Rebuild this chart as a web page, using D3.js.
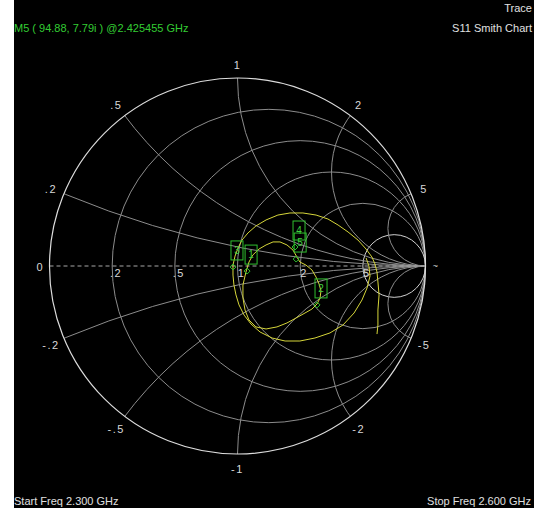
<!DOCTYPE html>
<html>
<head>
<meta charset="utf-8">
<script src="https://cdnjs.cloudflare.com/ajax/libs/d3/7.8.5/d3.min.js"></script>
<style>
body { margin: 0; background: #fff; }
svg { display: block; }
text { font-family: "Liberation Sans", Arial, sans-serif; }
</style>
</head>
<body>
<div id="carta"></div>
<script>
// Circulos de resistencia y arcos de reactancia (normalizados)
var resistencias = [0.2, 0.5, 1, 2, 5];
var etiquetasR = [".2", ".5", "1", "2", "5"];
var reactancias = [0.2, 0.5, 1, 2, 5, -0.2, -0.5, -1, -2, -5];
var etiquetasX = [".2", ".5", "1", "2", "5", "-.2", "-.5", "-1", "-2", "-5"];

// Traza S11 (coeficiente de reflexion, parte real / imaginaria)
var lazoExtRe = [0.742, 0.747, 0.747, 0.753, 0.747, 0.742, 0.731, 0.715, 0.684, 0.641, 0.588, 0.535, 0.481, 0.418, 0.348, 0.279, 0.215, 0.152, 0.098, 0.056, 0.024, 0.003, -0.013, -0.024, -0.024, -0.019, -0.008, 0.008, 0.035, 0.072, 0.120, 0.184, 0.253, 0.332, 0.412, 0.492, 0.561, 0.620, 0.662, 0.689, 0.705, 0.699, 0.684];
var lazoExtIm = [-0.362, -0.314, -0.234, -0.154, -0.085, -0.032, 0.011, 0.048, 0.090, 0.138, 0.181, 0.218, 0.250, 0.271, 0.282, 0.282, 0.271, 0.245, 0.213, 0.176, 0.138, 0.096, 0.053, 0.005, -0.048, -0.101, -0.154, -0.207, -0.261, -0.309, -0.351, -0.383, -0.399, -0.399, -0.383, -0.356, -0.314, -0.250, -0.181, -0.117, -0.053, 0.000, 0.043];
var lazoIntRe = [0.045, 0.061, 0.082, 0.114, 0.152, 0.189, 0.226, 0.263, 0.295, 0.316, 0.332, 0.364, 0.396, 0.418, 0.434, 0.444, 0.439, 0.423, 0.396, 0.359, 0.311, 0.263, 0.210, 0.152, 0.098, 0.061, 0.040, 0.029, 0.029, 0.045];
var lazoIntIm = [-0.032, 0.021, 0.059, 0.090, 0.112, 0.128, 0.128, 0.112, 0.085, 0.048, 0.021, 0.005, -0.021, -0.059, -0.096, -0.133, -0.170, -0.202, -0.229, -0.250, -0.277, -0.303, -0.324, -0.335, -0.324, -0.287, -0.234, -0.170, -0.101, -0.032];

// Marcadores
var marcadores = ["1", "2", "3", "4", "5"];
var marcadorRe = [0.051, 0.423, -0.024, 0.306, 0.312];
var marcadorIm = [-0.027, -0.207, -0.005, 0.101, 0.037];

var svg = d3.select("#carta").append("svg")
	.attr("width", 534)
	.attr("height", 508);

svg.append("rect").attr("x", 14).attr("y", 0).attr("width", 520).attr("height", 508).attr("fill", "#000");

var cx = 237.5, cy = 266, R = 188;
var x = d3.scaleLinear().domain([-1, 1]).range([cx - R, cx + R]);
var y = d3.scaleLinear().domain([-1, 1]).range([cy + R, cy - R]);
var k = x(1) - x(0);

svg.append("clipPath").attr("id", "unidad")
	.append("circle").attr("cx", x(0)).attr("cy", y(0)).attr("r", k);

var g = svg.append("g");

// Circulos de resistencia constante
g.selectAll(".res")
	.data(resistencias)
	.enter().append("circle")
	.attr("class", "res")
	.attr("cx", function(d) { return x(d / (1 + d)); })
	.attr("cy", y(0))
	.attr("r", function(d) { return k / (1 + d); })
	.attr("fill", "none")
	.attr("stroke", function(d) { return d == 5 ? "#d0d0d0" : "#8c8c8c"; })
	.attr("stroke-width", 1);

// Arcos de reactancia constante
g.append("g").attr("clip-path", "url(#unidad)")
	.selectAll("circle")
	.data(reactancias)
	.enter().append("circle")
	.attr("cx", x(1))
	.attr("cy", function(d) { return y(1 / d); })
	.attr("r", function(d) { return k / Math.abs(d); })
	.attr("fill", "none")
	.attr("stroke", "#8c8c8c")
	.attr("stroke-width", 1);

// Eje real punteado
g.append("line")
	.attr("x1", x(-1)).attr("x2", x(1))
	.attr("y1", y(0)).attr("y2", y(0))
	.attr("stroke", "#a8a8a8")
	.attr("stroke-dasharray", "4,3");

// Circulo exterior
g.append("circle")
	.attr("cx", x(0)).attr("cy", y(0)).attr("r", k)
	.attr("fill", "none")
	.attr("stroke", "#dcdcdc")
	.attr("stroke-width", 1.2);

// Etiquetas de resistencia sobre el eje
g.selectAll(".etR")
	.data(resistencias)
	.enter().append("text")
	.attr("class", "etR")
	.attr("x", function(d) { return x((d - 1) / (d + 1)) + 4; })
	.attr("y", y(0) + 11)
	.attr("text-anchor", "middle")
	.attr("fill", "#d8d8d8")
	.attr("font-size", 11)
	.attr("letter-spacing", 1.5)
	.text(function(d, i) { return etiquetasR[i]; });

// Etiquetas de reactancia en el borde
function gamma(xv) {
	var den = 1 + xv * xv;
	return [(xv * xv - 1) / den, 2 * xv / den];
}
g.selectAll(".etX")
	.data(reactancias)
	.enter().append("text")
	.attr("class", "etX")
	.attr("x", function(d) { var p = gamma(d); return x(p[0] * 1.075); })
	.attr("y", function(d) { var p = gamma(d); return y(p[1] * 1.075) + 5; })
	.attr("text-anchor", "middle")
	.attr("fill", "#d8d8d8")
	.attr("font-size", 11)
	.attr("letter-spacing", 1.5)
	.text(function(d, i) { return etiquetasX[i]; });

g.append("text").attr("x", x(-1) - 10).attr("y", y(0) + 5)
	.attr("text-anchor", "middle").attr("fill", "#d8d8d8").attr("font-size", 11).text("0");
g.append("text").attr("x", x(1) + 10).attr("y", y(0) + 3)
	.attr("text-anchor", "middle").attr("fill", "#d8d8d8").attr("font-size", 9).text("~");

// Traza
var linea = d3.line()
	.x(function(d) { return x(d[0]); })
	.y(function(d) { return y(d[1]); });

[[lazoExtRe, lazoExtIm], [lazoIntRe, lazoIntIm]].forEach(function(s) {
	g.append("path")
		.datum(s[0].map(function(v, i) { return [v, s[1][i]]; }))
		.attr("d", linea)
		.attr("fill", "none")
		.attr("stroke", "#d6d63a")
		.attr("stroke-width", 1);
});

// Marcadores
var mk = g.selectAll(".mk")
	.data(marcadores)
	.enter().append("g")
	.attr("class", "mk")
	.attr("transform", function(d, i) { return "translate(" + x(marcadorRe[i]) + "," + y(marcadorIm[i]) + ")"; });

mk.append("path")
	.attr("d", "M0,-3L3,0L0,3L-3,0Z")
	.attr("fill", "none")
	.attr("stroke", "#2fbf2f");
mk.append("rect")
	.attr("x", -2).attr("y", -26)
	.attr("width", 12).attr("height", 19)
	.attr("fill", "none")
	.attr("stroke", "#2fbf2f");
mk.append("text")
	.attr("x", 4).attr("y", -13)
	.attr("text-anchor", "middle")
	.attr("fill", "#3fcf3f")
	.attr("font-size", 10)
	.text(function(d) { return d; });

// Textos
svg.append("text").attr("x", 14).attr("y", 32).attr("fill", "#33cc33").attr("font-size", 11)
	.text("M5 ( 94.88, 7.79i ) @2.425455 GHz");
svg.append("text").attr("x", 532).attr("y", 12).attr("text-anchor", "end").attr("fill", "#e0e0e0").attr("font-size", 11)
	.text("Trace");
svg.append("text").attr("x", 532).attr("y", 32).attr("text-anchor", "end").attr("fill", "#e0e0e0").attr("font-size", 11)
	.text("S11 Smith Chart");
svg.append("text").attr("x", 14).attr("y", 505).attr("fill", "#e0e0e0").attr("font-size", 11)
	.text("Start Freq 2.300 GHz");
svg.append("text").attr("x", 531).attr("y", 505).attr("text-anchor", "end").attr("fill", "#e0e0e0").attr("font-size", 11)
	.text("Stop Freq 2.600 GHz");
</script>
</body>
</html>
